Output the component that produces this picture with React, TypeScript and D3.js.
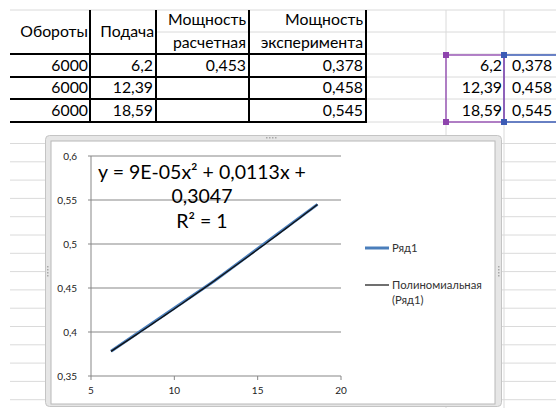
import React, { useEffect, useRef } from 'react';
import * as d3 from 'd3';

// table data
const headers = ['Обороты', 'Подача', 'Мощность', 'Мощность'];
const subHeaders = ['', '', 'расчетная', 'эксперимента'];
const rpm = ['6000', '6000', '6000'];
const feed = [6.2, 12.39, 18.59];
const powerCalc = ['0,453', '', ''];
const powerExp = [0.378, 0.458, 0.545];

// chart
const seriesName = 'Ряд1';
const trendName = ['Полиномиальная', '(Ряд1)'];
const equation = ['y = 9E-05x² + 0,0113x +', '0,3047', 'R² = 1'];
const xTicks = [5, 10, 15, 20];
const yTicks = [0.35, 0.4, 0.45, 0.5, 0.55, 0.6];

const W = 556;
const H = 408;
const FONT = 'Lato, "Open Sans", sans-serif';
const fmt = (v: number) => String(v).replace('.', ',');

const App: React.FC = () => {
  const svgRef = useRef<SVGSVGElement>(null);

  useEffect(() => {
    if (!svgRef.current) return;
    const svg = d3.select(svgRef.current);
    svg.selectAll('*').remove();

    svg.append('rect').attr('width', W).attr('height', H).attr('fill', '#fff');

    // sheet gridlines
    const grid = svg.append('g').attr('stroke', '#dadada').attr('stroke-width', 1);
    const rowLines = [10, 54, 77, 99, 122];
    rowLines.forEach(y => grid.append('line').attr('x1', 10).attr('x2', W).attr('y1', y).attr('y2', y));
    grid.append('line').attr('x1', 156).attr('x2', W).attr('y1', 32).attr('y2', 32);
    d3.range(143.5, H, 18.3).forEach(y =>
      grid.append('line').attr('x1', 10).attr('x2', W).attr('y1', y).attr('y2', y));
    [446, 504].forEach(x => grid.append('line').attr('x1', x).attr('x2', x).attr('y1', 10).attr('y2', H));

    // table
    const colEdges = [10, 90, 156, 249, 366];
    const rowY = [54, 77, 99, 122];
    const tbl = svg.append('g').attr('font-family', FONT).attr('font-size', 15.8).attr('fill', '#000');
    const lines = svg.append('g').attr('stroke', '#000').attr('stroke-width', 2);
    rowY.forEach(y => lines.append('line').attr('x1', 10).attr('x2', 367).attr('y1', y).attr('y2', y));
    colEdges.slice(1).forEach(x => lines.append('line').attr('x1', x).attr('x2', x).attr('y1', 10).attr('y2', 123));

    tbl.append('text').attr('x', 88).attr('y', 37).attr('text-anchor', 'end').text(headers[0]);
    tbl.append('text').attr('x', 154).attr('y', 37).attr('text-anchor', 'end').text(headers[1]);
    tbl.append('text').attr('x', 246).attr('y', 25).attr('text-anchor', 'end').text(headers[2]);
    tbl.append('text').attr('x', 363).attr('y', 25).attr('text-anchor', 'end').text(headers[3]);
    tbl.append('text').attr('x', 246).attr('y', 48).attr('text-anchor', 'end').text(subHeaders[2]);
    tbl.append('text').attr('x', 363).attr('y', 48).attr('text-anchor', 'end').text(subHeaders[3]);

    rpm.forEach((r, i) => {
      const y = (rowY[i] + rowY[i + 1]) / 2 + 5;
      tbl.append('text').attr('x', 88).attr('y', y).attr('text-anchor', 'end').text(r);
      tbl.append('text').attr('x', 153).attr('y', y).attr('text-anchor', 'end').text(fmt(feed[i]));
      tbl.append('text').attr('x', 246).attr('y', y).attr('text-anchor', 'end').text(powerCalc[i]);
      tbl.append('text').attr('x', 363).attr('y', y).attr('text-anchor', 'end').text(fmt(powerExp[i]));
      tbl.append('text').attr('x', 502).attr('y', y).attr('text-anchor', 'end').text(fmt(feed[i]));
      tbl.append('text').attr('x', 512).attr('y', y).text(fmt(powerExp[i]));
    });

    // selection boxes
    svg.append('rect').attr('x', 504).attr('y', 55).attr('width', 80).attr('height', 67)
      .attr('fill', 'none').attr('stroke', '#3b5bb5').attr('stroke-width', 1.5);
    svg.append('rect').attr('x', 446).attr('y', 55).attr('width', 58).attr('height', 67)
      .attr('fill', 'none').attr('stroke', '#9b59b6').attr('stroke-width', 1.5);
    [[446, 55, '#8e44ad'], [446, 122, '#8e44ad'], [504, 55, '#3b5bb5'], [504, 122, '#3b5bb5']].forEach(([x, y, c]) =>
      svg.append('rect').attr('x', (x as number) - 3).attr('y', (y as number) - 3).attr('width', 6).attr('height', 6)
        .attr('fill', c as string));

    // chart frame
    svg.append('rect').attr('x', 45.5).attr('y', 135.5).attr('width', 456).attr('height', 271).attr('rx', 4)
      .attr('fill', '#e6e6e6').attr('stroke', '#c4c4c4');
    svg.append('rect').attr('x', 51).attr('y', 141).attr('width', 444).attr('height', 263)
      .attr('fill', '#fff').attr('stroke', '#b8b8b8').attr('stroke-width', 1);
    const dots = svg.append('g').attr('fill', '#a8a8a8');
    [0, 1, 2, 3].forEach(k => {
      dots.append('rect').attr('x', 266 + k * 3).attr('y', 137).attr('width', 1.5).attr('height', 1.5);
      dots.append('rect').attr('x', 47).attr('y', 266 + k * 3).attr('width', 1.5).attr('height', 1.5);
      dots.append('rect').attr('x', 498).attr('y', 266 + k * 3).attr('width', 1.5).attr('height', 1.5);
    });

    // plot
    const x = d3.scaleLinear().domain([5, 20]).range([91, 341]);
    const y = d3.scaleLinear().domain([0.35, 0.6]).range([376, 156]);
    const plot = svg.append('g');

    yTicks.forEach(t => {
      plot.append('line').attr('x1', x(5) - 3).attr('x2', x(20)).attr('y1', y(t)).attr('y2', y(t))
        .attr('stroke', '#878787').attr('stroke-width', 1);
      plot.append('text').attr('x', 77).attr('y', y(t) + 3.5).attr('text-anchor', 'end')
        .attr('font-family', FONT).attr('font-size', 10).attr('fill', '#222').text(fmt(t));
    });
    plot.append('line').attr('x1', x(5)).attr('x2', x(5)).attr('y1', y(0.6)).attr('y2', y(0.35))
      .attr('stroke', '#878787');
    xTicks.forEach(t => {
      plot.append('line').attr('x1', x(t)).attr('x2', x(t)).attr('y1', y(0.35)).attr('y2', y(0.35) + 4)
        .attr('stroke', '#878787');
      plot.append('text').attr('x', x(t)).attr('y', 394).attr('text-anchor', 'middle')
        .attr('font-family', FONT).attr('font-size', 10).attr('fill', '#222').text(t);
    });

    // series
    const pts = feed.map((f, i) => [f, powerExp[i]] as [number, number]);
    const line = d3.line<[number, number]>().x(d => x(d[0])).y(d => y(d[1]));
    plot.append('path').attr('d', line(pts) || '').attr('fill', 'none')
      .attr('stroke', '#4a7ebb').attr('stroke-width', 3);

    // polynomial trendline (quadratic fit through the points)
    const fit = (v: number) => pts.reduce((s, [xi, yi], i) =>
      s + yi * pts.reduce((p, [xj], j) => (j === i ? p : p * (v - xj) / (xi - xj)), 1), 0);
    const xs = d3.range(feed[0], feed[2], 0.25).concat([feed[2]]);
    plot.append('path').attr('d', line(xs.map(v => [v, fit(v)] as [number, number])) || '')
      .attr('fill', 'none').attr('stroke', '#111').attr('stroke-width', 1.3);

    // equation label
    const eq = plot.append('g').attr('font-family', FONT).attr('font-size', 19.5).attr('fill', '#000')
      .attr('text-anchor', 'middle');
    [179, 203, 228].forEach((yy, i) => eq.append('text').attr('x', 202).attr('y', yy).text(equation[i]));

    // legend
    const lg = svg.append('g').attr('font-family', FONT).attr('font-size', 11.3).attr('fill', '#333');
    lg.append('line').attr('x1', 365).attr('x2', 389).attr('y1', 248).attr('y2', 248)
      .attr('stroke', '#4a7ebb').attr('stroke-width', 3);
    lg.append('text').attr('x', 392).attr('y', 252).text(seriesName);
    lg.append('line').attr('x1', 365).attr('x2', 389).attr('y1', 285).attr('y2', 285)
      .attr('stroke', '#111').attr('stroke-width', 1.2);
    lg.append('text').attr('x', 392).attr('y', 289).text(trendName[0]);
    lg.append('text').attr('x', 392).attr('y', 304).text(trendName[1]);
  }, []);

  return <svg ref={svgRef} width={W} height={H} style={{ position: 'absolute', left: 0, top: 0 }} />;
};

export default App;
